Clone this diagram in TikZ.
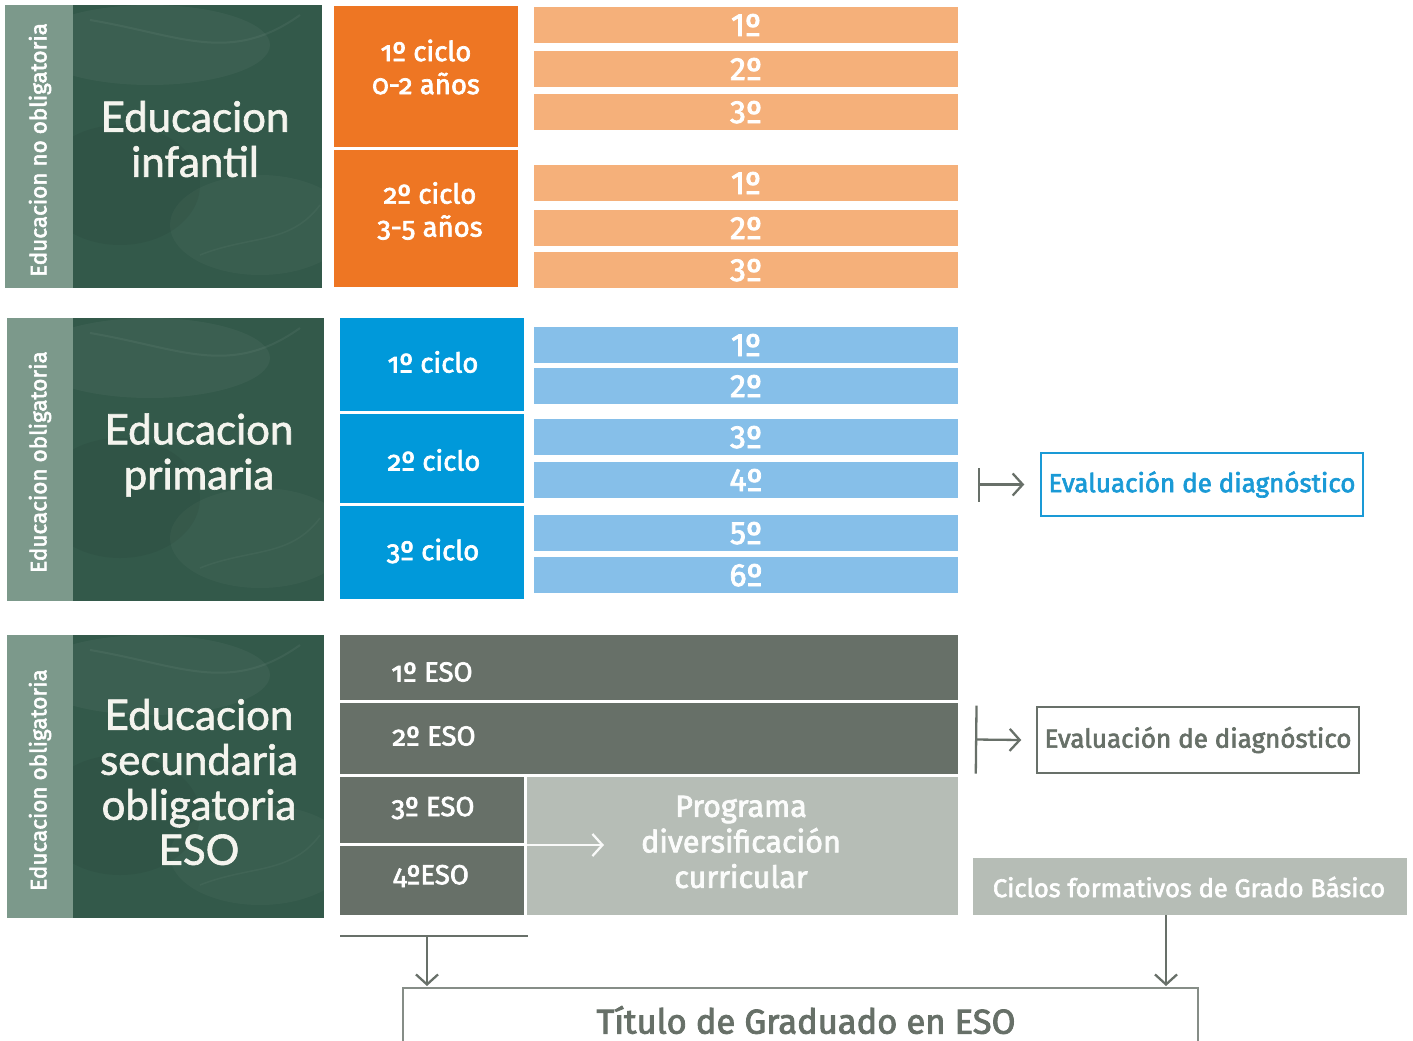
\documentclass[tikz,border=0pt]{standalone}
\usepackage{fontspec}
\setmainfont{Fira Sans}
\newfontfamily\fsemi[FakeBold=2.5]{Fira Sans}
\newfontfamily\foldsemi[Numbers=OldStyle,FakeBold=2.5]{Fira Sans}
\newfontfamily\chalk[FakeBold=1.5]{Lato}
\usetikzlibrary{arrows.meta}
\definecolor{orangeD}{HTML}{EE7623}
\definecolor{orangeL}{HTML}{F5B07A}
\definecolor{blueD}{HTML}{0099DA}
\definecolor{blueL}{HTML}{86BFE9}
\definecolor{grayD}{HTML}{677068}
\definecolor{grayL}{HTML}{B6BDB6}
\definecolor{arrowc}{HTML}{687069}
\definecolor{evalblue}{HTML}{1A9AD6}
\definecolor{boardc}{HTML}{33594A}
\definecolor{stripc}{HTML}{7C998B}
\definecolor{chalkc}{HTML}{F4F4EE}
\newcommand\fs[2]{\fontsize{#1}{#2}\selectfont}
\newcommand\bx[6]{\node[blk,#6,minimum width={(#4)-(#2)},minimum height={(#5)-(#3)}] (#1) at ({((#2)+(#4))/2},{((#3)+(#5))/2}) {};}
\tikzset{
  blk/.style={inner sep=0pt, outer sep=0pt, draw=none, rectangle},
  board/.style={fill=boardc},
  strip/.style={fill=stripc},
  cyc/.style={fill=orangeD},
  yr/.style={fill=orangeL},
  cycb/.style={fill=blueD},
  yrb/.style={fill=blueL},
  esod/.style={fill=grayD},
  esol/.style={fill=grayL},
  striptxt/.style={rotate=90, text=white, font=\fsemi\fs{22.5}{26}, inner sep=0pt},
  chalktxt/.style={text=chalkc, font=\chalk\fs{42}{45}, align=center, inner sep=0pt},
  cyctxt/.style={text=white, font=\foldsemi\fs{27.5}{33}, align=center, inner sep=0pt},
  yrtxt/.style={text=white, font=\fsemi\fs{32}{32}, anchor=base, inner sep=0pt},
  esotxt/.style={text=white, font=\foldsemi\fs{27.5}{30}, inner sep=0pt},
  progtxt/.style={text=white!95!grayL, font=\fsemi\fs{30.5}{35.5}, align=center, inner sep=0pt},
  tipv/.tip={Straight Barb[length=10pt,width=22pt,line width=2.3pt]},
  arr/.style={draw=arrowc, line width=2.3pt, -tipv},
}
\begin{document}
\begin{tikzpicture}[x=1pt,y=-1pt]
\useasboundingbox (0,0) rectangle (1413,1041);
% ---------- chalkboards ----------
\bx{b1}{5}{5}{322}{288}{board}
\bx{b2}{7}{318}{324}{601}{board}
\bx{b3}{7}{635}{324}{918}{board}
\foreach \y in {5,318,635}{
  \begin{scope}
  \clip (73,\y) rectangle (324,\y+283);
  \fill[white,opacity=0.04] (150,\y+40) ellipse (120 and 40);
  \fill[white,opacity=0.03] (260,\y+220) ellipse (90 and 50);
  \fill[black,opacity=0.05] (120,\y+180) ellipse (80 and 60);
  \draw[white,opacity=0.05,line width=2pt] (90,\y+15) .. controls (180,\y+30) and (230,\y+60) .. (300,\y+10);
  \draw[white,opacity=0.04,line width=1.5pt] (200,\y+250) .. controls (250,\y+230) and (290,\y+240) .. (320,\y+200);
  \end{scope}
}
\bx{s1}{5}{5}{73}{288}{strip}
\bx{s2}{7}{318}{73}{601}{strip}
\bx{s3}{7}{635}{73}{918}{strip}
\node[striptxt] (s1t) at (40,150) {Educacion no obligatoria};
\node[striptxt] (s2t) at (40,462) {Educacion obligatoria};
\node[striptxt] (s3t) at (40,780) {Educacion obligatoria};
\node[chalktxt] (b1t) at (195,139) {Educacion\\infantil};
\node[chalktxt] (b2t) at (199,455) {Educacion\\primaria};
\node[chalktxt] (b3t) at (199,782) {Educacion\\secundaria\\obligatoria\\ESO};
% ---------- infantil ----------
\bx{ic1}{334}{6}{518}{147}{cyc}
\bx{ic2}{334}{150}{518}{287}{cyc}
\node[cyctxt] (ic1t) at (426,67) {1º ciclo\\0-2 años};
\node[cyctxt] (ic2t) at (430,211) {2º ciclo\\3-5 años};
\foreach \n/\a/\b/\t in {i1/7/43/1º, i2/51/87/2º, i3/94/130/3º, i4/165/201/1º, i5/210/246/2º, i6/252/288/3º}{
  \bx{\n}{534}{\a}{958}{\b}{yr}
  \node[yrtxt] (\n t) at (746,\a+29) {\t};
}
% ---------- primaria ----------
\bx{pc1}{340}{318}{524}{411}{cycb}
\bx{pc2}{340}{414}{524}{503}{cycb}
\bx{pc3}{340}{506}{524}{599}{cycb}
\node[cyctxt] (pc1t) at (433,362) {1º ciclo};
\node[cyctxt] (pc2t) at (434,460) {2º ciclo};
\node[cyctxt] (pc3t) at (433,551) {3º ciclo};
\foreach \n/\a/\b/\t in {p1/327/363/1º, p2/368/404/2º, p3/419/455/3º, p4/462/498/4º, p5/515/551/5º, p6/557/593/6º}{
  \bx{\n}{534}{\a}{958}{\b}{yrb}
  \node[yrtxt] (\n t) at (746,\a+29) {\t};
}
\node[draw=evalblue, line width=1.5pt, minimum width=322pt, minimum height=63pt, inner sep=0pt, text=evalblue, font=\fsemi\fs{26}{30}] (ev1) at (1202,484.5) {Evaluación de diagnóstico};
\coordinate (ev1s) at (978,484.5);
\draw[arr, {Bar[width=34pt,line width=2.3pt]}-tipv] (ev1s) -- ([xshift=-16pt]ev1.west);
% ---------- secundaria ----------
\bx{e1}{340}{635}{958}{700}{esod}
\bx{e2}{340}{703}{958}{774}{esod}
\bx{e3}{340}{777}{524}{843}{esod}
\bx{e4}{340}{846}{524}{915}{esod}
\bx{prog}{527}{777}{958}{915}{esol}
\node[esotxt] (e1t) at (432,672) {1º ESO};
\node[esotxt] (e2t) at (434,736) {2º ESO};
\node[esotxt] (e3t) at (433,808) {3º ESO};
\node[esotxt] (e4t) at (431,876) {4ºESO};
\node[progtxt] (progt) at (741,842) {Programa\\diversificación\\curricular};
\coordinate (pa) at (527,845);
\coordinate (pb) at (604,845);
\draw[arr, draw=white!92!grayL] (pa) -- (pb);
\node[draw=arrowc, line width=1.5pt, minimum width=322pt, minimum height=66pt, inner sep=0pt, text=grayD, font=\fsemi\fs{26}{30}] (ev2) at (1198,740) {Evaluación de diagnóstico};
\coordinate (ev2s) at (975,739.5);
\draw[arr, {Bar[width=68pt,line width=2.3pt]}-tipv] (ev2s) -- ([xshift=-15pt]ev2.west);
\bx{cic}{973}{858}{1407}{915}{esol}
\node[text=white, font=\fsemi\fs{25.5}{28}, inner sep=0pt] (cict) at (1189,887) {Ciclos formativos de Grado Básico};
% ---------- title ----------
\bx{tbox}{403}{988}{1198}{1050}{}
\draw[draw=arrowc!80, line width=1.5pt] (tbox.south west) |- (tbox.north east) -- (tbox.south east);
\node[text=grayD, font=\fsemi\fs{34.5}{36}, inner sep=0pt] (tt) at (806,1020) {Título de Graduado en ESO};
\coordinate (bl1) at (340,936);
\coordinate (bl2) at (528,936);
\coordinate (bl3) at (427,936);
\coordinate (bl4) at (427,986);
\draw[draw=arrowc, line width=2.3pt] (bl1) -- (bl2);
\draw[arr] (bl3) -- (bl4);
\coordinate (cr1) at (1166,915);
\coordinate (cr2) at (1166,986);
\draw[arr] (cr1) -- (cr2);
\end{tikzpicture}
\end{document}
